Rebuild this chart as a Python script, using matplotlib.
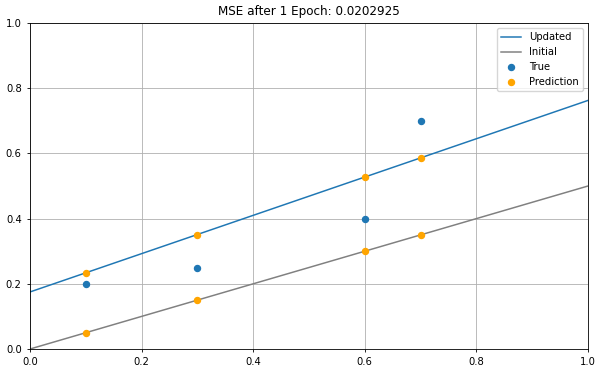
import numpy as np
import matplotlib
matplotlib.use("Agg")
import matplotlib.pyplot as plt

# data
x_pts = [0.1, 0.3, 0.6, 0.7]
y_true = [0.2, 0.25, 0.4, 0.7]
pred_initial = [0.05, 0.15, 0.3, 0.35]
pred_updated = [0.234, 0.351, 0.528, 0.586]

line_x = [0.0, 1.0]
initial_y = [0.0, 0.5]
updated_y = [0.175, 0.7625]

mse = "0.0202925"

plt.rcParams['font.size'] = 7.2

fig = plt.figure(figsize=(6.03, 3.73), dpi=100)
ax = fig.add_axes([30/603, 24/373, 558/603, 326/373])

ax.plot(line_x, updated_y, c='C0', lw=1.08, label='Updated')
ax.plot(line_x, initial_y, c='grey', lw=1.08, label='Initial')
ax.scatter(x_pts, y_true, s=18.7, c='C0', label='True', zorder=3)
ax.scatter(x_pts + x_pts, pred_updated + pred_initial, s=18.7, c='orange',
           label='Prediction', zorder=3)

ax.set_xlim(0, 1)
ax.set_ylim(0, 1)
ax.grid(True, lw=0.6)
ax.tick_params(length=2.5, width=0.6)
for s in ax.spines.values():
    s.set_linewidth(0.6)
ax.set_title('MSE after 1 Epoch: {}'.format(mse), fontsize=8.64)
ax.legend(loc='upper right', fontsize=7.2)

fig.savefig('out.png', dpi=100)
